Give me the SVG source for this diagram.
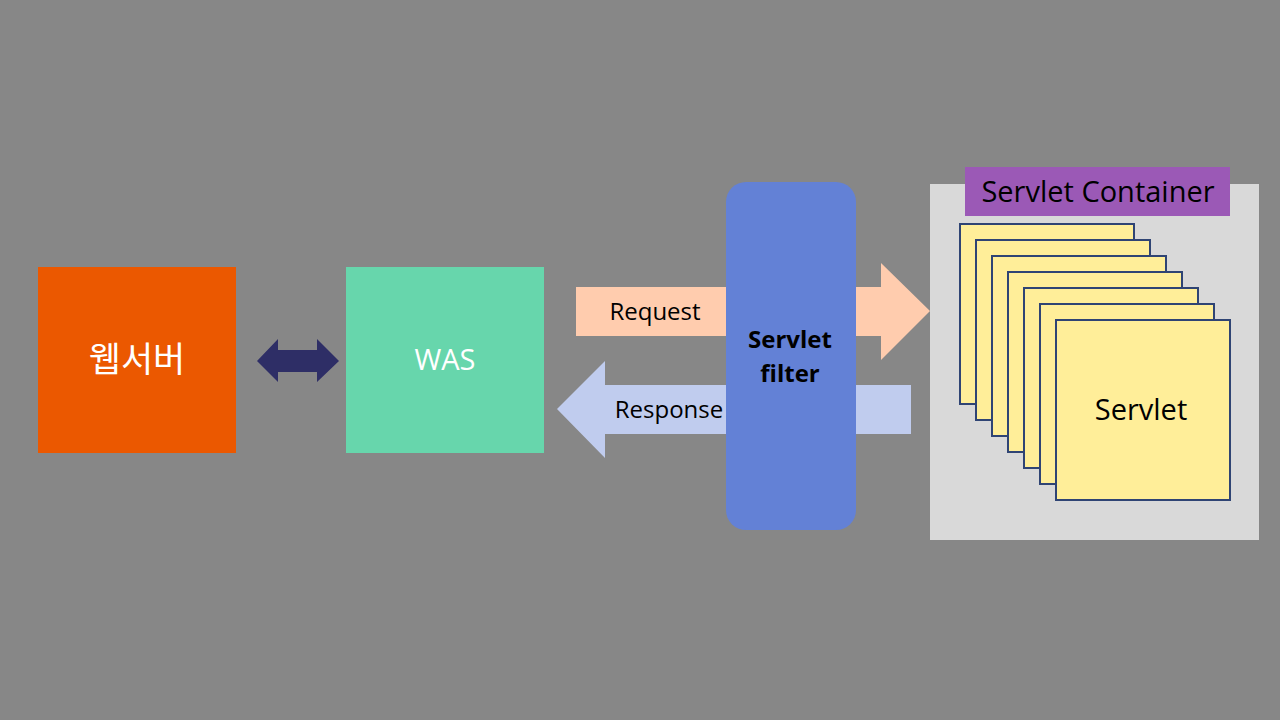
<svg xmlns="http://www.w3.org/2000/svg" width="1280" height="720" viewBox="0 0 1280 720">
<style>
text{font-family:"Open Sans","Noto Sans","Noto Sans CJK KR",sans-serif;}
.card{fill:#FFEE99;stroke:#2F4474;stroke-width:2;}
.lbl{font-size:24px;fill:#000;}
</style>
<rect width="1280" height="720" fill="#878787"/>
<g id="webserver">
<rect x="38" y="267" width="198" height="186" fill="#EB5800"/>
<text x="137" y="372" text-anchor="middle" font-size="35" fill="#fff" font-family="'Noto Sans CJK KR',sans-serif">웹서버</text>
</g>
<g id="was">
<rect x="346" y="267" width="198" height="186" fill="#67D6AC"/>
<text x="445" y="370" text-anchor="middle" font-size="29" fill="#fff">WAS</text>
</g>
<g id="connectors">
<polygon points="257,361 278,339 278,350 317,350 317,339 339,361 317,382 317,372 278,372 278,382" fill="#2E2E66"/>
<g id="request">
<polygon points="576,287 881,287 881,263 930,311 881,360 881,336 576,336" fill="#FFCCAE"/>
<text x="655" y="320" text-anchor="middle" class="lbl">Request</text>
</g>
<g id="response">
<polygon points="911,385 605,385 605,361 557,409 605,458 605,434 911,434" fill="#C0CCEE"/>
<text x="669" y="418" text-anchor="middle" class="lbl">Response</text>
</g>
</g>
<g id="filter">
<rect x="726" y="182" width="130" height="348" rx="20" fill="#6381D6"/>
<text x="790" y="348" text-anchor="middle" font-size="24" font-weight="bold" fill="#000">Servlet</text>
<text x="790" y="382" text-anchor="middle" font-size="24" font-weight="bold" fill="#000">filter</text>
</g>
<g id="container">
<rect x="930" y="184" width="329" height="356" fill="#D9D9D9"/>
<rect x="965" y="167" width="265" height="49" fill="#9B59B6"/>
<text x="1098" y="202" text-anchor="middle" font-size="29" fill="#000">Servlet Container</text>
</g>
<g id="servlets">
<rect class="card" x="960" y="224" width="174" height="180"/>
<rect class="card" x="976" y="240" width="174" height="180"/>
<rect class="card" x="992" y="256" width="174" height="180"/>
<rect class="card" x="1008" y="272" width="174" height="180"/>
<rect class="card" x="1024" y="288" width="174" height="180"/>
<rect class="card" x="1040" y="304" width="174" height="180"/>
<rect class="card" x="1056" y="320" width="174" height="180"/>
<text x="1141" y="420" text-anchor="middle" font-size="29" fill="#000">Servlet</text>
</g>
</svg>
